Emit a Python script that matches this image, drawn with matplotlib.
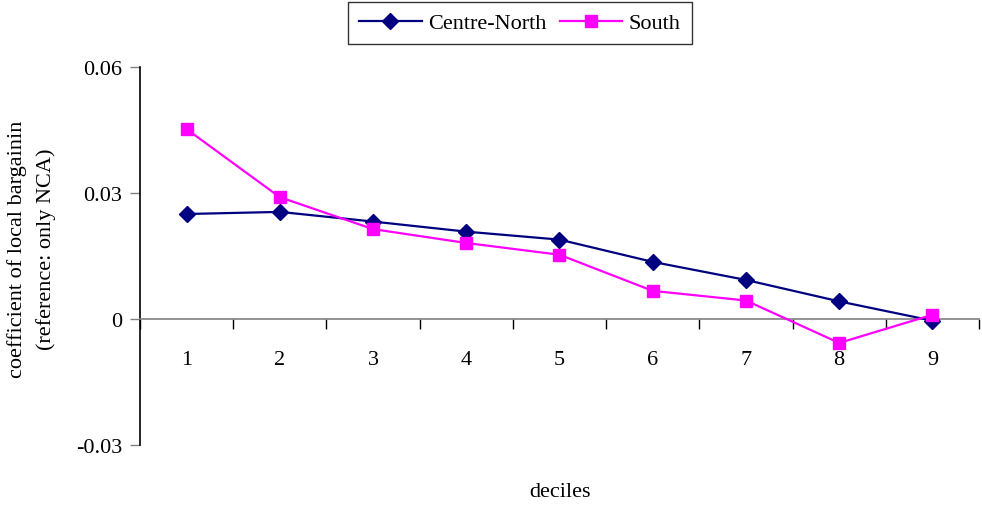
import matplotlib
matplotlib.use("Agg")
from matplotlib import pyplot as plt
import numpy as np

# data
deciles = [1, 2, 3, 4, 5, 6, 7, 8, 9]
centre_north = [0.0250, 0.0255, 0.0232, 0.0208, 0.0189, 0.0136, 0.0093, 0.0042, -0.0004]
south = [0.0452, 0.0290, 0.0214, 0.0181, 0.0153, 0.0067, 0.0044, -0.0057, 0.0010]
y_ticks = [-0.03, 0, 0.03, 0.06]
y_tick_labels = ['-0.03', '0', '0.03', '0.06']

plt.rcParams['font.family'] = ['Liberation Serif', 'DejaVu Serif']
FS = 16

fig = plt.figure(figsize=(9.82, 5.06), dpi=100)
ax = fig.add_axes([140/982, 1-446/506, (979-140)/982, (446-68)/506])

ax.plot(deciles, centre_north, color='#000080', marker='D', markersize=8,
        linewidth=1.6, label='Centre-North', clip_on=False, zorder=3)
ax.plot(deciles, south, color='#FF00FF', marker='s', markersize=9,
        linewidth=1.6, label='South', clip_on=False, zorder=3)

ax.set_xlim(0.5, 9.5)
ax.set_ylim(-0.03, 0.06)

# axes styling
ax.spines['top'].set_visible(False)
ax.spines['right'].set_visible(False)
ax.spines['bottom'].set_position(('data', 0))
ax.spines['bottom'].set_color('#808080')
ax.spines['bottom'].set_linewidth(1.2)
ax.spines['left'].set_color('black')
ax.spines['left'].set_linewidth(1.2)

ax.set_yticks(y_ticks)
ax.set_yticklabels(y_tick_labels)
ax.tick_params(axis='y', direction='out', length=7, width=1, color='#808080',
               labelsize=FS, pad=6)

ax.set_xticks(deciles)
ax.set_xticklabels([str(d) for d in deciles])
ax.set_xticks(np.arange(0.5, 10, 1), minor=True)
ax.tick_params(axis='x', which='major', length=0, labelsize=FS, pad=22)
ax.tick_params(axis='x', which='minor', direction='out', length=7, width=1, color='black')

ax.set_ylabel('coefficient of local bargainin\n(reference: only NCA)', fontsize=FS,
              linespacing=1.6)
ax.yaxis.set_label_coords(-0.100, 0.52)

fig.text(560/982, 1-493/506, 'deciles', ha='center', va='center', fontsize=FS)

leg = fig.legend(loc='center', bbox_to_anchor=(520/982, 1-24/506), ncol=2,
                 fontsize=FS, frameon=True, fancybox=False, edgecolor='black',
                 handlelength=2.8, columnspacing=0.6, handletextpad=0.3,
                 borderpad=0.5)
leg.get_frame().set_linewidth(1.0)

fig.savefig('out.png', dpi=100)
